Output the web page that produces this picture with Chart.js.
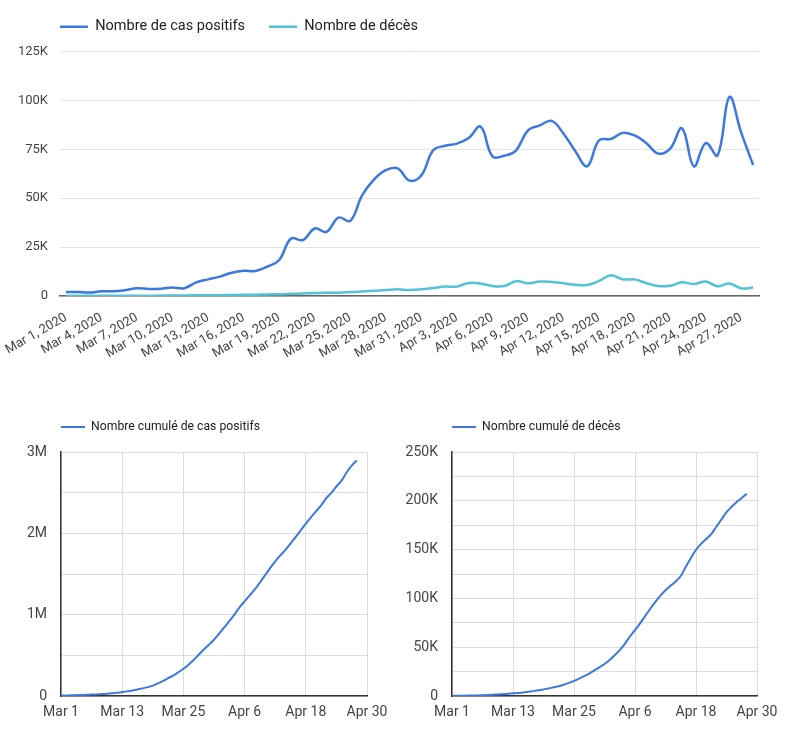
<!DOCTYPE html>
<html lang="fr">
<head>
<meta charset="utf-8">
<title>Covid-19 : cas et décès</title>
<script src="https://cdn.jsdelivr.net/npm/chart.js@4.4.1/dist/chart.umd.min.js"></script>
<style>
    html, body { margin: 0; padding: 0; background: #fff; }
    #page { position: relative; width: 800px; height: 752px; overflow: hidden; }
    .box { position: absolute; }
</style>
</head>
<body>
<div id="page">
    <div class="box" style="left:0;top:0;width:800px;height:360px"><canvas id="dailyChart"></canvas></div>
    <div class="box" style="left:0;top:400px;width:400px;height:352px"><canvas id="casesChart"></canvas></div>
    <div class="box" style="left:400px;top:400px;width:400px;height:352px"><canvas id="deathsChart"></canvas></div>
</div>
<script>
const BLUE = "#3b78e0";
const CYAN = "#52c3d6";

// jours du 1er mars au 30 avril (axe des graphiques cumulés)
const days = [
    "Mar 1", "Mar 2", "Mar 3", "Mar 4", "Mar 5", "Mar 6", "Mar 7", "Mar 8", "Mar 9", "Mar 10",
    "Mar 11", "Mar 12", "Mar 13", "Mar 14", "Mar 15", "Mar 16", "Mar 17", "Mar 18", "Mar 19", "Mar 20",
    "Mar 21", "Mar 22", "Mar 23", "Mar 24", "Mar 25", "Mar 26", "Mar 27", "Mar 28", "Mar 29", "Mar 30",
    "Mar 31", "Apr 1", "Apr 2", "Apr 3", "Apr 4", "Apr 5", "Apr 6", "Apr 7", "Apr 8", "Apr 9",
    "Apr 10", "Apr 11", "Apr 12", "Apr 13", "Apr 14", "Apr 15", "Apr 16", "Apr 17", "Apr 18", "Apr 19",
    "Apr 20", "Apr 21", "Apr 22", "Apr 23", "Apr 24", "Apr 25", "Apr 26", "Apr 27", "Apr 28", "Apr 29",
    "Apr 30",
];
// les données s'arrêtent au 28 avril
const dailyLabels = days.slice(0, 59).map((d) => d + ", 2020");

const dailyCases = [
    2000, 2000, 1800, 2400, 2400, 3000, 4000, 3600, 3700, 4400,
    4000, 7000, 8500, 9900, 11900, 12900, 12800, 15000, 18400, 29400,
    28600, 34500, 32800, 40100, 38400, 51500, 59500, 64300, 65300, 59000,
    61700, 74500, 76800, 77900, 80800, 86600, 71400, 71700, 74500, 84700,
    87200, 89500, 83000, 74000, 66300, 79600, 80300, 83400, 82100, 78100,
    72800, 75300, 85800, 66300, 78200, 71900, 101700, 83500, 67000,
];
const dailyDeaths = [
    100, 100, 100, 100, 100, 100, 150, 150, 200, 250,
    300, 350, 400, 400, 500, 600, 700, 800, 900, 1100,
    1300, 1500, 1700, 1700, 2000, 2300, 2700, 3100, 3400, 3100,
    3400, 4100, 4800, 4800, 6700, 6400, 5100, 5100, 7600, 6500,
    7400, 7200, 6500, 5700, 5600, 7700, 10600, 8500, 8500, 6500,
    5100, 5200, 7000, 6100, 7400, 5000, 6400, 3900, 4300,
];
const cumulCases = [
    5000, 6000, 8000, 10000, 12000, 14000, 17000, 20000, 24000, 28000,
    33000, 40000, 48000, 57000, 68000, 81000, 94000, 109000, 127000, 156000,
    185000, 219000, 252000, 292000, 335000, 385000, 443000, 508000, 572000, 630000,
    692000, 766000, 843000, 921000, 1002000, 1090000, 1165000, 1238000, 1312000, 1397000,
    1484000, 1573000, 1656000, 1730000, 1797000, 1876000, 1956000, 2039000, 2121000, 2199000,
    2272000, 2347000, 2433000, 2500000, 2578000, 2650000, 2750000, 2834000, 2900000,
];
const cumulDeaths = [
    100, 200, 300, 400, 500, 600, 800, 1000, 1300, 1600,
    1900, 2300, 2700, 3100, 3600, 4300, 5000, 5800, 6800, 7800,
    8900, 10000, 11600, 13400, 15500, 17800, 20300, 23000, 26200, 29400,
    32800, 37000, 41800, 47000, 53500, 61000, 67500, 74500, 82000, 89500,
    96500, 103000, 108500, 113000, 117500, 123000, 132500, 141500, 150000, 156000,
    161000, 166000, 173500, 181000, 188500, 194000, 199000, 203000, 207500,
];

Chart.defaults.font.family = "Roboto, 'Noto Sans', sans-serif";
Chart.defaults.color = "#444";

// place la légende au-dessus de la zone de tracé, alignée à gauche
function legendPlace(extra, dy) {
    return {
        id: "legendPlace",
        beforeInit(chart) {
            const fit = chart.legend.fit;
            chart.legend.fit = function () {
                fit.call(this);
                this.height += extra;
            };
        },
        afterLayout(chart) {
            const lg = chart.legend;
            const dx = chart.chartArea.left - lg.options.labels.padding - lg.left;
            lg.left += dx;
            lg.right += dx;
            lg.top += dy;
            lg.bottom += dy;
        },
    };
}

function legendOptions(size, lineWidth, padding) {
    return {
        align: "start",
        labels: {
            usePointStyle: true,
            pointStyle: "line",
            pointStyleWidth: lineWidth,
            padding: padding,
            color: "#222",
            font: { size: size },
        },
    };
}

new Chart(document.getElementById("dailyChart"), {
    type: "line",
    data: {
        labels: dailyLabels,
        datasets: [
            {
                label: "Nombre de cas positifs",
                data: dailyCases,
                borderColor: BLUE,
                backgroundColor: BLUE,
                borderWidth: 2.5,
                pointRadius: 0,
                tension: 0.4,
            },
            {
                label: "Nombre de décès",
                data: dailyDeaths,
                borderColor: CYAN,
                backgroundColor: CYAN,
                borderWidth: 2.5,
                pointRadius: 0,
                tension: 0.4,
            },
        ],
    },
    options: {
        responsive: true,
        maintainAspectRatio: false,
        animation: false,
        layout: { padding: { top: 0, right: 41, bottom: 0, left: 0 } },
        plugins: {
            legend: legendOptions(14.5, 28, 24),
            tooltip: { enabled: false },
        },
        scales: {
            x: {
                offset: true,
                grid: { display: false },
                border: { color: "#666", width: 1.5 },
                ticks: {
                    autoSkip: false,
                    minRotation: 30,
                    maxRotation: 30,
                    padding: 6,
                    font: { size: 13 },
                    callback: (v, i) => (i % 3 === 0 ? dailyLabels[i] : ""),
                },
                afterFit: (s) => { s.height = 64; },
            },
            y: {
                min: 0,
                max: 125000,
                border: { display: false },
                grid: { color: "#e3e3e3", drawTicks: false },
                ticks: {
                    stepSize: 25000,
                    padding: 12,
                    font: { size: 13 },
                    callback: (v) => (v === 0 ? "0" : v / 1000 + "K"),
                },
                afterFit: (s) => { s.width = 60; },
            },
        },
    },
    plugins: [legendPlace(3, -4.5)],
});

function cumulChart(id, label, values, max, step, labelEvery, fmt, yWidth, padRight) {
    new Chart(document.getElementById(id), {
        type: "line",
        data: {
            labels: days,
            datasets: [
                {
                    label: label,
                    data: values,
                    borderColor: BLUE,
                    backgroundColor: BLUE,
                    borderWidth: 2,
                    pointRadius: 0,
                    tension: 0.3,
                },
            ],
        },
        options: {
            responsive: true,
            maintainAspectRatio: false,
            animation: false,
            layout: { padding: { top: 11, right: padRight, bottom: 26, left: 0 } },
            plugins: {
                legend: legendOptions(12.2, 24, 10),
                tooltip: { enabled: false },
            },
            scales: {
                x: {
                    border: { color: "#333", width: 1.5 },
                    grid: {
                        drawTicks: false,
                        color: (ctx) => (ctx.index % 12 === 0 ? "#dcdcdc" : "transparent"),
                    },
                    ticks: {
                        autoSkip: false,
                        maxRotation: 0,
                        padding: 8,
                        font: { size: 14 },
                        callback: (v, i) => (i % 12 === 0 ? days[i] : ""),
                    },
                    afterFit: (s) => { s.height = 30; },
                },
                y: {
                    min: 0,
                    max: max,
                    border: { color: "#333", width: 1.5 },
                    grid: { color: "#dcdcdc", drawTicks: false },
                    ticks: {
                        stepSize: step,
                        padding: 14,
                        font: { size: 14 },
                        callback: (v) => (v === 0 ? "0" : v % labelEvery === 0 ? fmt(v) : ""),
                    },
                    afterFit: (s) => { s.width = yWidth; },
                },
            },
        },
        plugins: [legendPlace(9, 0)],
    });
}

cumulChart("casesChart", "Nombre cumulé de cas positifs", cumulCases,
    3000000, 500000, 1000000, (v) => v / 1000000 + "M", 61, 33);
cumulChart("deathsChart", "Nombre cumulé de décès", cumulDeaths,
    250000, 25000, 50000, (v) => v / 1000 + "K", 52, 43);
</script>
</body>
</html>
